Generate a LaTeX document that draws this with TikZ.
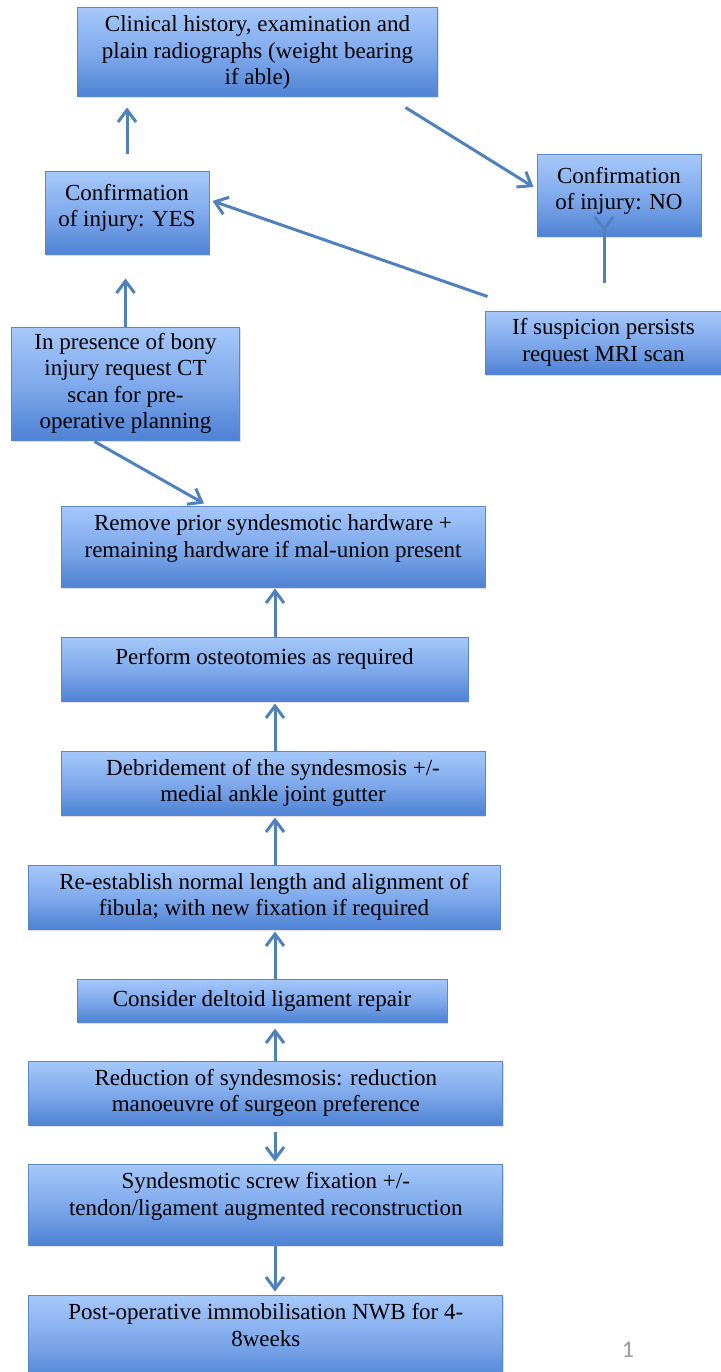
\documentclass[tikz,border=0pt]{standalone}
\usepackage{fontspec}
\setmainfont{Liberation Serif}
\newfontfamily\pagenofont{Carlito}
\usetikzlibrary{arrows.meta,calc,shadows}
\definecolor{boxtop}{RGB}{166,200,250}
\definecolor{boxmid}{RGB}{128,170,236}
\definecolor{boxbot}{RGB}{78,130,212}
\definecolor{boxline}{RGB}{88,136,202}
\definecolor{flow}{RGB}{79,129,189}
\tikzset{
  stage/.style={draw=boxline, line width=1pt, top color=boxtop, bottom color=boxbot,
    middle color=boxmid, align=center, inner sep=0pt,
    font=\fontsize{23}{26.5}\selectfont,
    drop shadow={shadow xshift=1pt, shadow yshift=-1.5pt, opacity=.25}},
  lift/.style={text depth=#1},
  link/.style={draw=flow, line width=3pt, -{Straight Barb[length=12pt,width=18pt]}},
}
\begin{document}
\begin{tikzpicture}[x=1pt, y=-1pt]
  \useasboundingbox (0,0) rectangle (720,1372);
  \coordinate (spine) at (275,0);
  % upper part
  \node[stage, minimum width=360, minimum height=89] (clin) at (257.5,52.5)
    {Clinical history, examination and\\plain radiographs (weight bearing\\if able)};
  \node[stage, minimum width=164, minimum height=82, lift=15pt] (yes) at (127,213)
    {Confirmation\\of injury: YES};
  \node[stage, minimum width=164, minimum height=82, lift=15pt] (no) at (619,196)
    {Confirmation\\of injury: NO};
  \node[stage, minimum width=237, minimum height=63] (mri) at (603.5,342.5)
    {If suspicion persists\\request MRI scan};
  \node[stage, minimum width=228, minimum height=113] (ct) at (125.5,383.5)
    {In presence of bony\\injury request CT\\scan for pre-\\operative planning};
  % operative steps
  \node[stage, minimum width=424, minimum height=81, lift=21pt] (remove) at (273,546.5)
    {Remove prior syndesmotic hardware +\\remaining hardware if mal-union present};
  \node[stage, minimum width=407, minimum height=64, lift=25pt] (perform) at (264.5,669)
    {Perform osteotomies as required};
  \node[stage, minimum width=424, minimum height=64] (debr) at (273,783)
    {Debridement of the syndesmosis +/-\\medial ankle joint gutter};
  \node[stage, minimum width=472, minimum height=64] (reest) at (264,897)
    {Re-establish normal length and alignment of\\fibula; with new fixation if required};
  \node[stage, minimum width=370, minimum height=43] (delt) at (262,1000.5)
    {Consider deltoid ligament repair};
  \node[stage, minimum width=474, minimum height=64] (reduc) at (265.8,1093)
    {Reduction of syndesmosis: reduction\\manoeuvre of surgeon preference};
  \node[stage, minimum width=474, minimum height=81, lift=21pt] (synd) at (265.8,1204.5)
    {Syndesmotic screw fixation +/-\\tendon/ligament augmented reconstruction};
  \node[stage, minimum width=474, minimum height=88, lift=28pt] (post) at (265.8,1339)
    {Post-operative immobilisation NWB for 4-\\8weeks};
  \node[text=black!40, inner sep=0pt] (pageno) at (628,1350)
    {\pagenofont\fontsize{24}{24}\selectfont 1};
  % connectors
  \draw[link, shorten <=17pt, shorten >=10pt] (yes.north) -- (yes.north |- clin.south);
  \draw[link] ($(clin.south east)+(-32.5,10)$) -- ($(no.west)+(-3,-9)$);
  \draw[link] ($(mri.north west)+(3,-14)$) -- ($(yes.east)+(3,-12)$);
  \draw[draw=flow, line width=3pt, -{Straight Barb[length=12pt,width=18pt,reversed]}]
    ($(no.south)+(-15,45)$) -- ($(no.south)+(-15,-22)$);
  \draw[link, shorten >=24pt] (ct.north) -- (ct.north |- yes.south);
  \draw[link] ($(ct.south)+(-31,1)$) -- ($(remove.north)+(-69,-2)$);
  \draw[link, shorten >=1pt] (perform.north -| spine) -- (remove.south -| spine);
  \draw[link, shorten >=2pt] (debr.north -| spine) -- (perform.south -| spine);
  \draw[link, shorten >=2pt] (reest.north -| spine) -- (debr.south -| spine);
  \draw[link, shorten >=2pt] (delt.north -| spine) -- (reest.south -| spine);
  \draw[link, shorten >=6pt] (reduc.north -| spine) -- (delt.south -| spine);
  \draw[link, shorten <=6pt, shorten >=2pt] (reduc.south -| spine) -- (synd.north -| spine);
  \draw[link, shorten >=3pt] (synd.south -| spine) -- (post.north -| spine);
\end{tikzpicture}
\end{document}
